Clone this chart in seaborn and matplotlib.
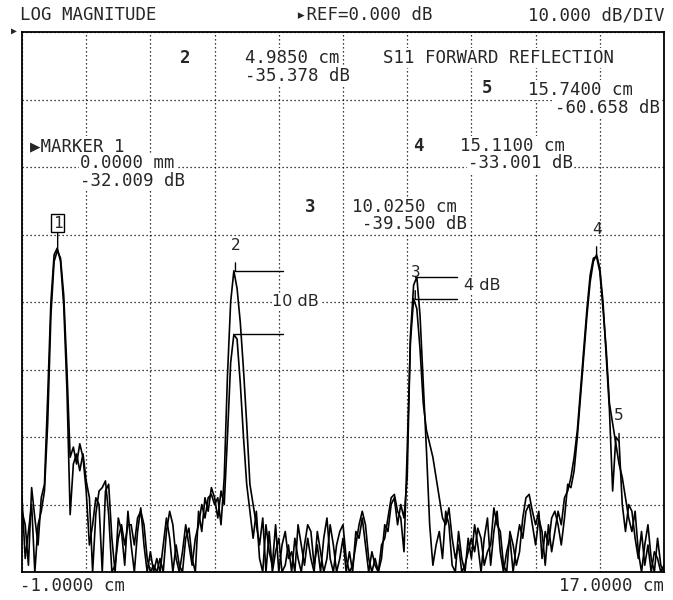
import numpy as np
import pandas as pd
import matplotlib
matplotlib.use("Agg")
import matplotlib.pyplot as plt
import seaborn as sns

# ---------------- data ----------------
START_CM, STOP_CM = -1.0, 17.0
REF_DB, DB_PER_DIV = 0.0, 10.0
N_DIV_X, N_DIV_Y = 10, 8

trace_a_db = [
    -71, -73, -79, -67.5, -72, -76, -69, -67, -54, -40,
    -33, -32.0, -34, -40.5, -53, -71.5, -64, -62.5, -65, -62.5,
    -66.5, -69, -80, -71.4, -68, -67.5, -66.5, -71.5, -80, -79,
    -75, -73, -76, -73, -73, -76, -72, -71, -73, -78,
    -80, -79, -80, -78, -80, -74, -71, -73, -78, -80,
    -77, -73, -76, -79, -75, -73, -70, -72, -69, -68.5,
    -70, -69, -73, -66, -51, -40, -35.378, -38, -43, -50,
    -58, -67, -70, -73, -76, -72, -80, -74, -80, -77,
    -75, -80, -79, -76, -80, -75, -78, -80, -76, -73,
    -74, -79, -76, -80, -75, -72, -78, -80, -76, -74,
    -73, -78, -80, -79, -76, -73, -71, -73, -78, -80,
    -78, -80, -76, -75, -72, -69, -68.5, -71, -72, -77,
    -62, -46, -39.5, -41, -47, -55, -59, -61, -63, -66,
    -69, -72, -73, -70.5, -75, -78, -76, -80, -79, -77,
    -75, -77, -73.5, -75, -79, -77, -76, -70.5, -73, -74,
    -79, -80, -74, -76, -79, -77, -72, -69, -68.5, -71,
    -73, -71, -78, -74, -76, -72, -71, -73, -76, -72,
    -67, -67.5, -65, -60, -54, -48, -42, -37, -34, -33.001,
    -35, -40, -48, -56, -68, -60, -60.658, -70, -74, -70,
    -71, -75, -78, -74, -79, -76, -80, -77, -78, -80, -79,
]

trace_b_db = [
    -69, -78, -74, -70, -80, -73, -71, -68, -58, -42,
    -34, -32.4, -33.5, -39, -50, -63, -61.5, -64, -61, -63,
    -68, -76, -73, -69, -70, -80, -68, -67, -75, -80,
    -72, -74, -79, -71, -76, -80, -74, -70.5, -76, -80,
    -77, -80, -78, -80, -76, -72, -75, -80, -76, -79,
    -80, -75, -73.5, -78, -80, -71, -74, -69, -71, -67.5,
    -69, -72, -68, -70, -60, -49, -44.8, -45.5, -52, -60,
    -67, -71, -75, -71, -78, -80, -73, -77, -79, -73,
    -80, -76, -74, -78, -77, -80, -73, -76, -79, -75,
    -78, -80, -74, -77, -80, -78, -73, -76, -80, -78,
    -75, -80, -77, -80, -74, -75, -72, -76, -80, -77,
    -79, -80, -78, -73, -74, -70, -69, -73, -70, -72,
    -66, -45, -37.5, -36.3, -42, -52, -62, -73, -79, -76,
    -74, -78, -71, -73, -79, -80, -74, -78, -80, -75,
    -78, -73, -76, -80, -75, -72, -79, -74, -71, -77,
    -80, -77, -75, -80, -76, -73, -75, -71, -70, -73,
    -76, -72, -74, -79, -73, -77, -74, -71, -73, -69,
    -68, -66, -63, -59, -53, -47, -41, -36, -33.5, -33.3,
    -35.5, -41, -47, -55, -58, -61, -64, -66, -69, -72,
    -74, -71, -77, -80, -76, -73, -78, -80, -75, -79, -80,
]

marker_num = [1, 2, 3, 4, 5]
marker_cm = [0.0, 4.985, 10.025, 15.11, 15.74]
marker_db = [-32.009, -35.378, -39.5, -33.001, -60.658]
marker_pos_text = ["0.0000 mm", "4.9850 cm", "10.0250 cm", "15.1100 cm", "15.7400 cm"]
marker_db_text = ["-32.009 dB", "-35.378 dB", "-39.500 dB", "-33.001 dB", "-60.658 dB"]

delta_cm = [4.985, 10.025]
delta_upper_db = [-35.378, -36.3]
delta_lower_db = [-44.8, -39.5]
delta_labels = ["10 dB", "4 dB"]

header_left = "LOG MAGNITUDE"
header_mid = "\u25b8REF=0.000 dB"
header_right = "10.000 dB/DIV"
footer_left = "-1.0000 cm"
footer_right = "17.0000 cm"
title_text = "S11 FORWARD REFLECTION"

# ---------------- build frame ----------------
frames = []
for name, vals in (("A", trace_a_db), ("B", trace_b_db)):
    xs = np.linspace(START_CM, STOP_CM, len(vals))
    frames.append(pd.DataFrame({"cm": xs, "db": vals, "trace": name}))
df = pd.concat(frames, ignore_index=True)

# ---------------- style ----------------
sns.set_style("white")
plt.rcParams["font.family"] = ["DejaVu Sans Mono", "DejaVu Sans"]

W, H = 673, 600
fig = plt.figure(figsize=(W / 100, H / 100), dpi=100)
ax = fig.add_axes([22 / W, 1 - 572 / H, 642 / W, 540 / H])

def P(x, y):
    return (x / W, 1 - y / H)

ax.set_xlim(START_CM, STOP_CM)
ax.set_ylim(REF_DB - N_DIV_Y * DB_PER_DIV, REF_DB)
ax.set_xticks(np.linspace(START_CM, STOP_CM, N_DIV_X + 1))
ax.set_yticks(np.linspace(REF_DB - N_DIV_Y * DB_PER_DIV, REF_DB, N_DIV_Y + 1))
ax.tick_params(length=0, labelbottom=False, labelleft=False)
ax.grid(True, color="black", lw=0.9, linestyle=(0, (1, 2.2)))
ax.set_axisbelow(True)
for s in ax.spines.values():
    s.set_color("black")
    s.set_linewidth(1.3)
    s.set_zorder(6)

sns.lineplot(data=df, x="cm", y="db", hue="trace", palette=["black", "black"],
             estimator=None, sort=False, lw=1.2, legend=False, ax=ax, zorder=4)
ax.set_xlabel("")
ax.set_ylabel("")

FS = 12.5
wb = dict(facecolor="white", edgecolor="none", pad=1.0)

# header / footer
fig.text(*P(20, 15), header_left, ha="left", va="center", fontsize=FS)
fig.text(*P(296, 15), header_mid, ha="left", va="center", fontsize=FS)
fig.text(*P(664, 15), header_right, ha="right", va="center", fontsize=FS)
fig.text(*P(20, 586), footer_left, ha="left", va="center", fontsize=FS)
fig.text(*P(664, 586), footer_right, ha="right", va="center", fontsize=FS)
fig.text(*P(14, 31), "\u25b6", ha="center", va="center", fontsize=7)

# title inside
fig.text(*P(383, 58), title_text, ha="left", va="center", fontsize=FS, bbox=wb, zorder=3)

# marker readouts (layout positions in pixels)
num_xy = {2: (185, 58), 3: (310, 207), 4: (418, 146), 5: (487, 88)}
pos_xy = {1: (80, 163), 2: (245, 58), 3: (352, 207), 4: (460, 146), 5: (528, 90)}
val_xy = {1: (80, 181), 2: (245, 76), 3: (362, 224), 4: (468, 163), 5: (555, 108)}

fig.text(*P(30, 146), "\u25b6MARKER 1", ha="left", va="center", fontsize=FS, bbox=wb, zorder=3)
for n, pt, vt in zip(marker_num, marker_pos_text, marker_db_text):
    if n in num_xy:
        fig.text(*P(*num_xy[n]), str(n), ha="center", va="center", fontsize=FS,
                 fontweight="bold", bbox=wb, zorder=3)
    fig.text(*P(*pos_xy[n]), pt, ha="left", va="center", fontsize=FS, bbox=wb, zorder=3)
    fig.text(*P(*val_xy[n]), vt, ha="left", va="center", fontsize=FS, bbox=wb, zorder=3)

# marker labels on the trace
for n, cm, db in zip(marker_num, marker_cm, marker_db):
    kw = dict(ha="center", va="center", fontsize=11.5, zorder=5,
              annotation_clip=False)
    if n == 1:
        kw["bbox"] = dict(boxstyle="square,pad=0.12", fc="white", ec="black", lw=1.0)
        ax.annotate(str(n), xy=(cm, db), xytext=(0, 18), textcoords="offset points",
                    arrowprops=dict(arrowstyle="-", lw=1.0, color="black",
                                    shrinkA=0, shrinkB=0), **kw)
    else:
        ax.annotate(str(n), xy=(cm, db), xytext=(0, 18.5), textcoords="offset points",
                    arrowprops=dict(arrowstyle="-", lw=1.0, color="black",
                                    shrinkA=5, shrinkB=0), **kw)

# delta lines
span = [1.32, 1.18]
for cm, up, lo, lab, sp in zip(delta_cm, delta_upper_db, delta_lower_db, delta_labels, span):
    ax.plot([cm, cm + sp], [up, up], color="black", lw=1.0, zorder=5)
    ax.plot([cm, cm + sp], [lo, lo], color="black", lw=1.0, zorder=5)

ax.text(6.02, -39.9, delta_labels[0], ha="left", va="center", fontsize=11.5,
        family=["DejaVu Sans"], bbox=dict(facecolor="white", edgecolor="none", pad=0.5), zorder=5)
ax.text(11.40, -37.6, delta_labels[1], ha="left", va="center", fontsize=11.5,
        family=["DejaVu Sans"], bbox=dict(facecolor="white", edgecolor="none", pad=0.5), zorder=5)

fig.savefig("out.png", dpi=100, facecolor="white")
